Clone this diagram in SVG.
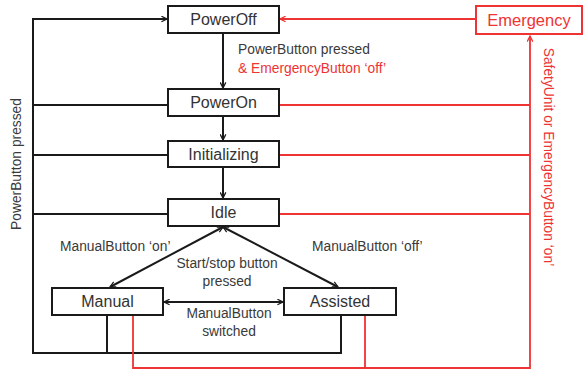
<svg xmlns="http://www.w3.org/2000/svg" width="584" height="371" viewBox="0 0 584 371">
  <style>
    .box { fill: #ffffff; stroke: #1a1a1a; stroke-width: 2; }
    .rbox { fill: #ffffff; stroke: #ee3333; stroke-width: 2; }
    .ln { fill: none; stroke: #1a1a1a; stroke-width: 2; }
    .rln { fill: none; stroke: #ee3333; stroke-width: 1.8; }
    .lbl { font-family: "Liberation Sans", Arial, sans-serif; font-size: 16px; fill: #333333; text-anchor: middle; }
    .rlbl { font-family: "Liberation Sans", Arial, sans-serif; font-size: 16.5px; fill: #ee3333; text-anchor: middle; }
    .t { font-family: "Liberation Sans", Arial, sans-serif; font-size: 13.8px; fill: #3a3a3a; }
    .rt { font-family: "Liberation Sans", Arial, sans-serif; font-size: 13.8px; fill: #ee3333; }
  </style>
  <defs>
    <marker id="ah" viewBox="0 0 10 10" refX="9" refY="5" markerWidth="7" markerHeight="7" orient="auto-start-reverse" markerUnits="userSpaceOnUse">
      <path d="M1,1 L9,5 L1,9" fill="none" stroke="#1a1a1a" stroke-width="1.8"/>
    </marker>
    <marker id="rah" viewBox="0 0 10 10" refX="9" refY="5" markerWidth="7" markerHeight="7" orient="auto-start-reverse" markerUnits="userSpaceOnUse">
      <path d="M1,1 L9,5 L1,9" fill="none" stroke="#ee3333" stroke-width="1.8"/>
    </marker>
  </defs>

  <g id="connectors">
    <!-- PowerButton return loop on the left -->
    <path class="ln" d="M107,315 V353 M341,315 V353 H33 V19 H167" marker-end="url(#ah)"/>
    <path class="ln" d="M33,105 H168 M33,155 H168 M33,214 H168"/>
    <!-- main sequence -->
    <path class="ln" d="M223,33 V88" marker-end="url(#ah)"/>
    <path class="ln" d="M223,116 V140" marker-end="url(#ah)"/>
    <path class="ln" d="M223,167 V198" marker-end="url(#ah)"/>
    <!-- mode switching -->
    <path class="ln" d="M223,227 L110,287" marker-start="url(#ah)" marker-end="url(#ah)"/>
    <path class="ln" d="M223,227 L338,287" marker-start="url(#ah)" marker-end="url(#ah)"/>
    <path class="ln" d="M164,302 H283" marker-start="url(#ah)" marker-end="url(#ah)"/>
    <!-- emergency paths -->
    <path class="rln" d="M475,19 H280" marker-end="url(#rah)"/>
    <path class="rln" d="M133,315 V368 H530 V36" marker-end="url(#rah)"/>
    <path class="rln" d="M365,315 V368"/>
    <path class="rln" d="M279,105 H530 M279,155 H530 M279,214 H530"/>
  </g>

  <g id="PowerOff">
    <rect class="box" x="168" y="6" width="111" height="27"/>
    <text class="lbl" x="223.5" y="25">PowerOff</text>
  </g>
  <g id="PowerOn">
    <rect class="box" x="168" y="89" width="111" height="27"/>
    <text class="lbl" x="223.5" y="108">PowerOn</text>
  </g>
  <g id="Initializing">
    <rect class="box" x="168" y="141" width="111" height="26"/>
    <text class="lbl" x="223.5" y="159.5">Initializing</text>
  </g>
  <g id="Idle">
    <rect class="box" x="168" y="199" width="111" height="27"/>
    <text class="lbl" x="223.5" y="218">Idle</text>
  </g>
  <g id="Manual">
    <rect class="box" x="52" y="288" width="111" height="27"/>
    <text class="lbl" x="107.5" y="307">Manual</text>
  </g>
  <g id="Assisted">
    <rect class="box" x="284" y="288" width="112" height="27"/>
    <text class="lbl" x="340" y="307">Assisted</text>
  </g>
  <g id="Emergency">
    <rect class="rbox" x="476" y="6" width="106" height="28"/>
    <text class="rlbl" x="529" y="26">Emergency</text>
  </g>

  <g id="labels">
    <text class="t" x="238" y="54">PowerButton pressed</text>
    <text class="rt" x="238" y="73">&amp; EmergencyButton ‘off’</text>
    <text class="t" x="60" y="251">ManualButton ‘on’</text>
    <text class="t" x="312" y="251">ManualButton ‘off’</text>
    <text class="t" x="227" y="268" text-anchor="middle">Start/stop button</text>
    <text class="t" x="227" y="286" text-anchor="middle">pressed</text>
    <text class="t" x="229" y="318" text-anchor="middle">ManualButton</text>
    <text class="t" x="229" y="336" text-anchor="middle">switched</text>
    <text class="t" x="0" y="0" text-anchor="middle" transform="translate(21,164) rotate(-90)">PowerButton pressed</text>
    <text class="rt" x="0" y="0" text-anchor="middle" font-size="12.5px" transform="translate(544,157) rotate(90)">SafetyUnit or EmergencyButton ‘on’</text>
  </g>
</svg>
